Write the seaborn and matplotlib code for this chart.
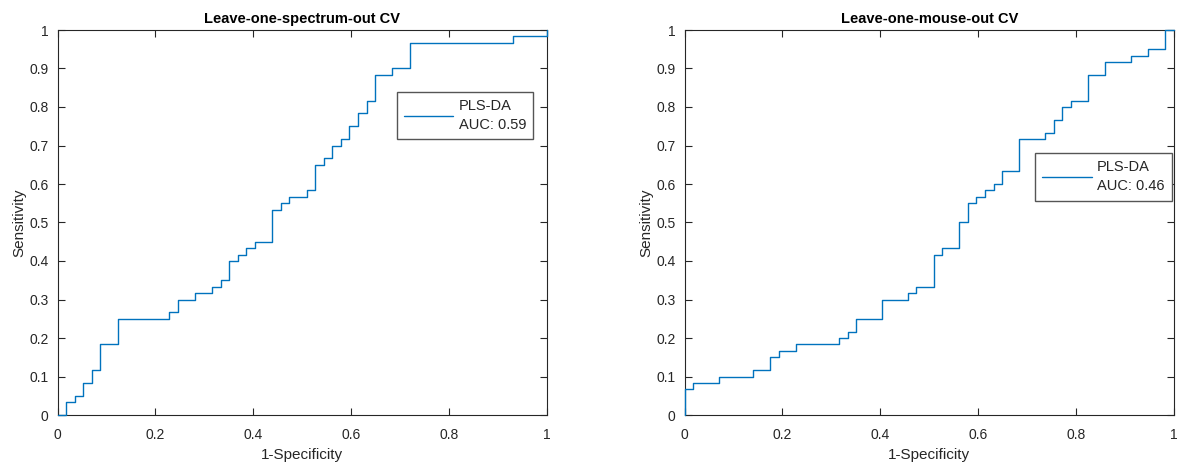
import matplotlib
matplotlib.use("Agg")
import matplotlib.pyplot as plt
import seaborn as sns

# ---------------- data ----------------
titles = ["Leave-one-spectrum-out CV", "Leave-one-mouse-out CV"]
series_label = "PLS-DA"
auc_values = ["0.59", "0.46"]

fpr_left = [0, 0.0175, 0.0351, 0.0526, 0.0702, 0.0877, 0.1228, 0.2281, 0.2456, 0.2807,
            0.3158, 0.3333, 0.3509, 0.3684, 0.3860, 0.4035, 0.4386, 0.4561, 0.4737, 0.5088,
            0.5263, 0.5439, 0.5614, 0.5789, 0.5965, 0.6140, 0.6316, 0.6491, 0.6842, 0.7193,
            0.9298, 1.0]
tpr_left = [0, 0.0333, 0.05, 0.0833, 0.1167, 0.1833, 0.25, 0.2667, 0.3, 0.3167,
            0.3333, 0.35, 0.4, 0.4167, 0.4333, 0.45, 0.5333, 0.55, 0.5667, 0.5833,
            0.65, 0.6667, 0.7, 0.7167, 0.75, 0.7833, 0.8167, 0.8833, 0.9, 0.9667,
            0.9833, 1.0]

fpr_right = [0, 0, 0.0175, 0.0702, 0.1404, 0.1754, 0.1930, 0.2281, 0.3158, 0.3333,
             0.3509, 0.4035, 0.4561, 0.4737, 0.5088, 0.5263, 0.5614, 0.5789, 0.5965, 0.6140,
             0.6316, 0.6491, 0.6842, 0.7368, 0.7544, 0.7719, 0.7895, 0.8246, 0.8596, 0.9123,
             0.9474, 0.9825, 1.0]
tpr_right = [0, 0.0667, 0.0833, 0.1, 0.1167, 0.15, 0.1667, 0.1833, 0.2, 0.2167,
             0.25, 0.3, 0.3167, 0.3333, 0.4167, 0.4333, 0.5, 0.55, 0.5667, 0.5833,
             0.6, 0.6333, 0.7167, 0.7333, 0.7667, 0.8, 0.8167, 0.8833, 0.9167, 0.9333,
             0.95, 1.0, 1.0]

x_ticks = [0, 0.2, 0.4, 0.6, 0.8, 1.0]
x_tick_labels = ["0", "0.2", "0.4", "0.6", "0.8", "1"]
y_ticks = [0, 0.1, 0.2, 0.3, 0.4, 0.5, 0.6, 0.7, 0.8, 0.9, 1.0]
y_tick_labels = ["0", "0.1", "0.2", "0.3", "0.4", "0.5", "0.6", "0.7", "0.8", "0.9", "1"]
x_label = "1-Specificity"
y_label = "Sensitivity"

# ---------------- style ----------------
sns.set_style("ticks")
plt.rcParams["font.family"] = ["Liberation Sans", "DejaVu Sans"]

line_color = "#0072BD"
axis_color = "#262626"

fig = plt.figure(figsize=(11.79, 4.65), dpi=100)
W, H = 1179, 465
ax_boxes = [
    (57.5, 547.0),
    (684.5, 1174.0),
]
top_px, bot_px = 30.0, 415.0
legend_anchor = [(0.972, 0.840), (0.995, 0.680)]

datasets = [(fpr_left, tpr_left), (fpr_right, tpr_right)]

for i, ((x0, x1), (fx, ty)) in enumerate(zip(ax_boxes, datasets)):
    ax = fig.add_axes([x0 / W, 1 - bot_px / H, (x1 - x0) / W, (bot_px - top_px) / H])
    sns.lineplot(x=fx, y=ty, ax=ax, estimator=None, sort=False,
                 drawstyle="steps-post", color=line_color, linewidth=1.0,
                 label=f"{series_label}\nAUC: {auc_values[i]}", clip_on=False, zorder=5)
    ax.set_xlim(0, 1)
    ax.set_ylim(0, 1)
    ax.set_xticks(x_ticks)
    ax.set_xticklabels(x_tick_labels)
    ax.set_yticks(y_ticks)
    ax.set_yticklabels(y_tick_labels)
    ax.tick_params(direction="in", top=True, right=True, length=5, width=0.8,
                   colors=axis_color, labelsize=10)
    ax.tick_params(axis="x", pad=9.5)
    ax.tick_params(axis="y", pad=6.5)
    for s in ax.spines.values():
        s.set_visible(True)
        s.set_color(axis_color)
        s.set_linewidth(0.8)
    ax.set_xlabel(x_label, fontsize=11, color=axis_color, labelpad=4.5)
    ax.set_ylabel(y_label, fontsize=11, color=axis_color, labelpad=2)
    ax.set_title(titles[i], fontsize=10.5, fontweight="bold", color="black", pad=5)
    leg = ax.legend(loc="upper right", bbox_to_anchor=legend_anchor[i],
                    bbox_transform=ax.transAxes, borderaxespad=0, fontsize=10.5,
                    frameon=True, fancybox=False, framealpha=1, edgecolor="#555555",
                    handlelength=3.4, handletextpad=0.35, borderpad=0.5)
    leg.get_frame().set_linewidth(1.0)
    for t in leg.get_texts():
        t.set_color(axis_color)
        t.set_linespacing(1.45)

fig.savefig("out.png", dpi=100, facecolor="white")
